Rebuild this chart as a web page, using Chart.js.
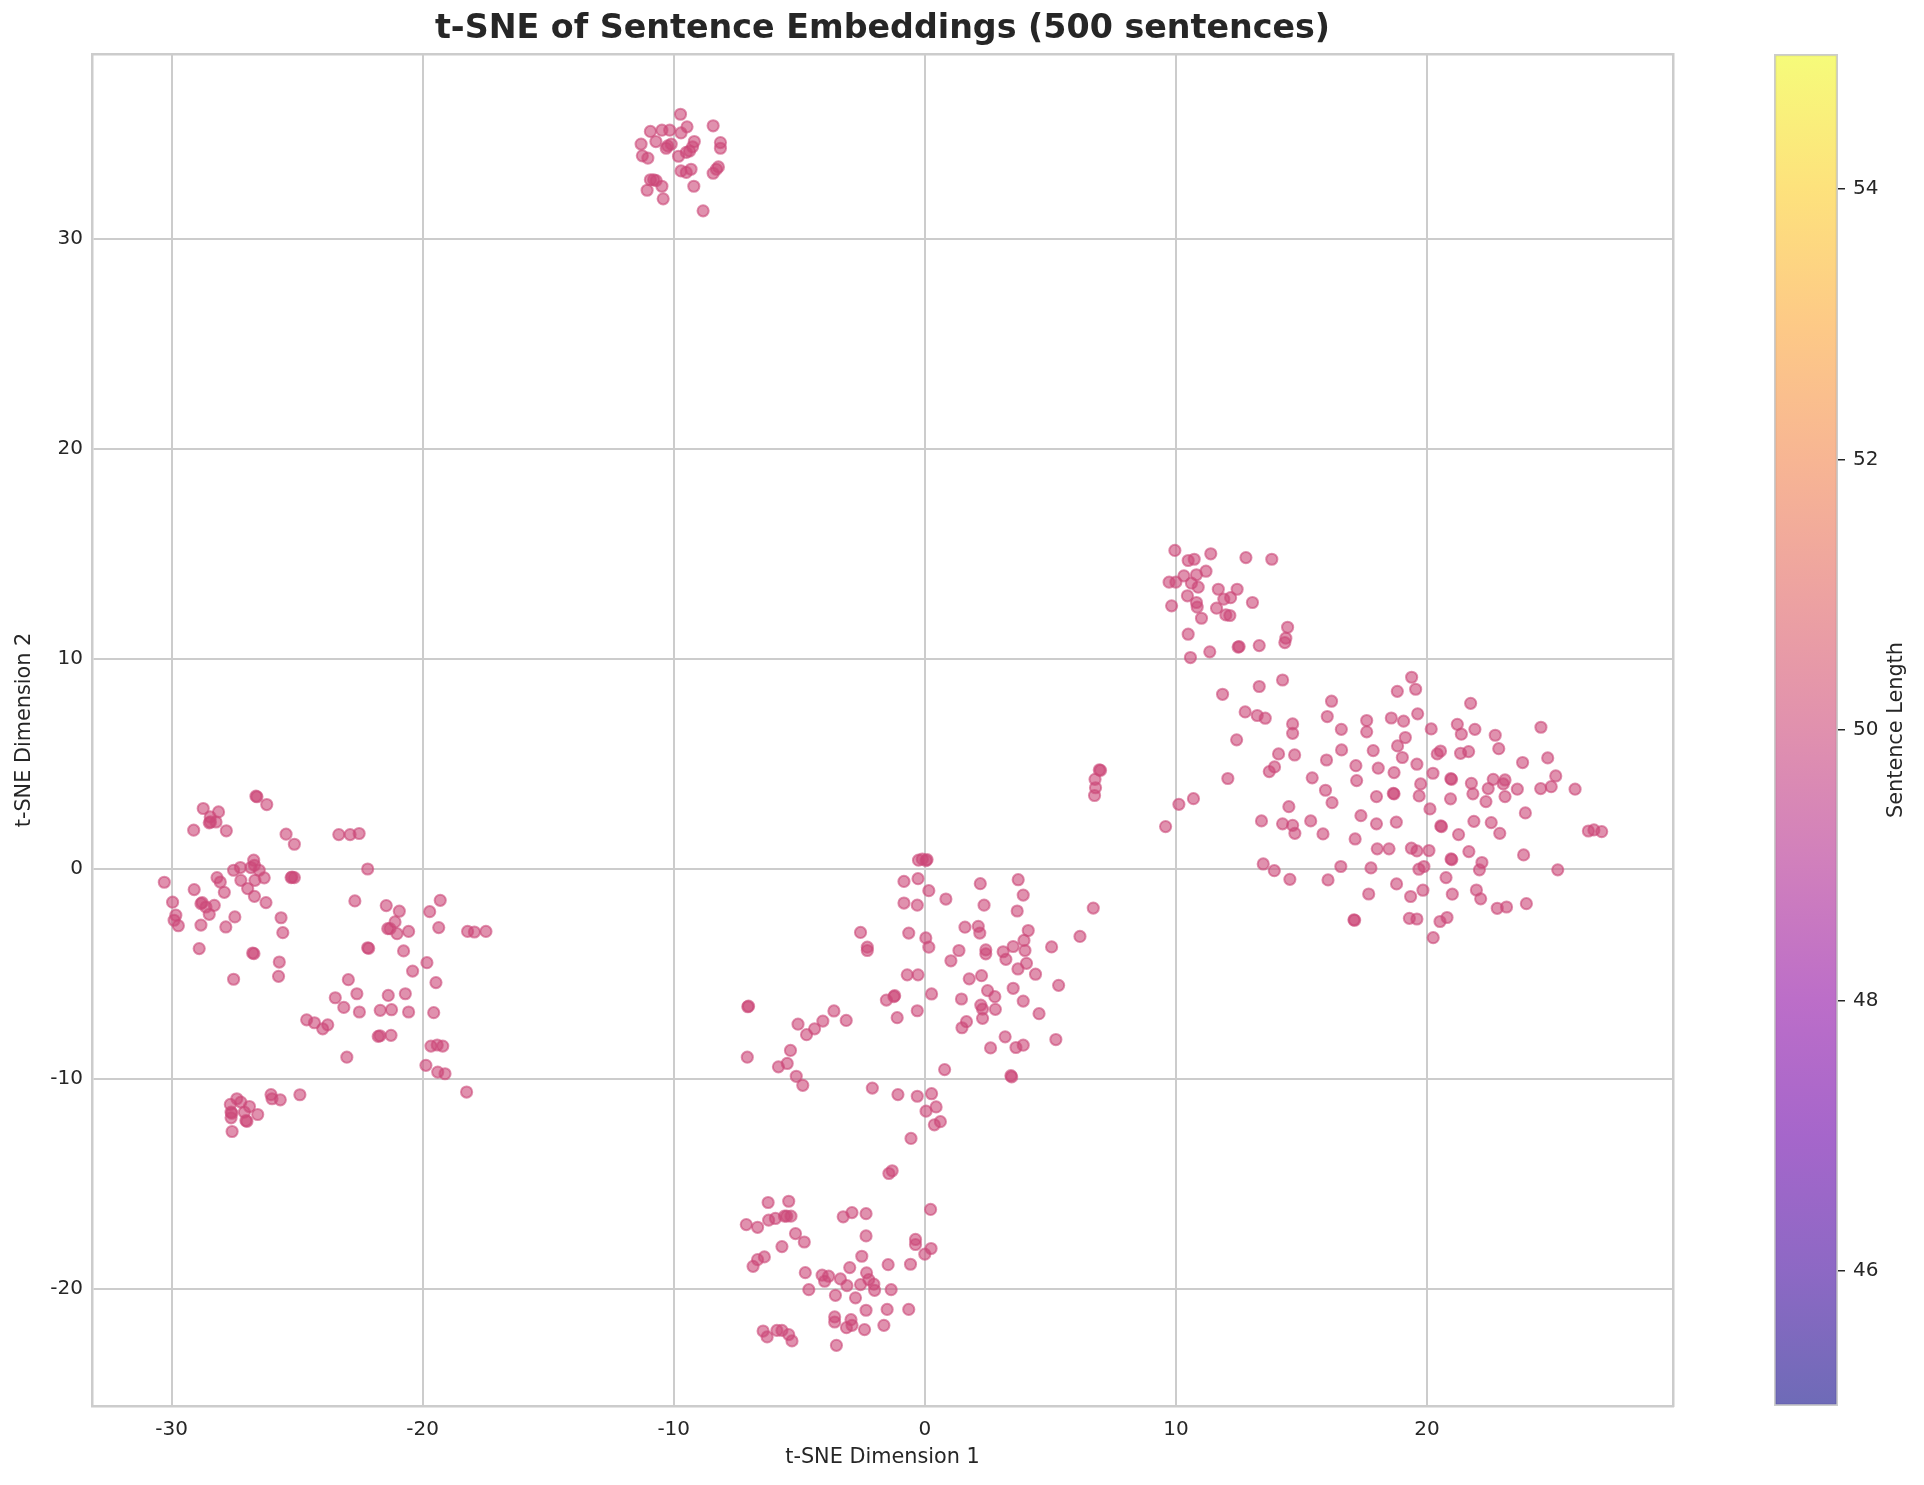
<!DOCTYPE html>
<html>
<head>
<meta charset="utf-8">
<title>t-SNE of Sentence Embeddings</title>
<script src="https://cdn.jsdelivr.net/npm/chart.js@4.4.0/dist/chart.umd.min.js"></script>
<style>
    html, body { margin: 0; padding: 0; background: #ffffff; }
    #wrap { position: relative; width: 1924px; height: 1485px; }
    #scatterChart { position: absolute; left: 0; top: 0; }
    #colorbarChart { position: absolute; left: 1764px; top: 0; }
</style>
</head>
<body>
<div id="wrap">
    <canvas id="scatterChart" width="1924" height="1485"></canvas>
    <canvas id="colorbarChart" width="160" height="1485"></canvas>
</div>
<script>
// t-SNE coordinates [dim1, dim2]
const topCluster = [
    [-9.73, 35.92], [-10.93, 35.10], [-10.47, 35.16], [-10.16, 35.16], [-9.71, 35.03], [-9.47, 35.32],
    [-8.43, 35.37], [-11.30, 34.50], [-10.71, 34.62], [-10.24, 34.41], [-10.10, 34.50], [-10.30, 34.30],
    [-9.18, 34.62], [-9.25, 34.37], [-9.37, 34.17], [-8.14, 34.57], [-8.14, 34.30], [-11.25, 33.94],
    [-11.03, 33.83], [-9.81, 33.92], [-9.50, 34.10], [-9.71, 33.22], [-9.50, 33.15], [-9.31, 33.30],
    [-8.22, 33.41], [-8.43, 33.11], [-8.30, 33.30], [-10.93, 32.80], [-10.80, 32.80], [-10.70, 32.76],
    [-11.06, 32.30], [-10.47, 32.49], [-10.42, 31.89], [-9.20, 32.49], [-8.83, 31.32]
];

const leftCluster = [
    [-26.64, 3.45], [-26.60, 3.42], [-26.21, 3.05], [-28.74, 2.86], [-28.13, 2.70], [-28.46, 2.46],
    [-28.50, 2.18], [-28.45, 2.22], [-28.23, 2.22], [-29.12, 1.83], [-27.82, 1.80], [-25.44, 1.64],
    [-25.11, 1.16], [-23.34, 1.62], [-22.89, 1.62], [-22.53, 1.67], [-26.73, 0.40], [-26.70, 0.16],
    [-27.53, -0.08], [-27.26, 0.05], [-26.84, 0.05], [-26.51, -0.08], [-28.19, -0.43], [-28.06, -0.64],
    [-27.24, -0.56], [-26.68, -0.56], [-26.31, -0.44], [-25.24, -0.43], [-25.20, -0.40], [-25.11, -0.43],
    [-30.29, -0.65], [-29.10, -1.00], [-27.90, -1.13], [-26.97, -0.95], [-26.70, -1.32], [-29.96, -1.60],
    [-28.83, -1.67], [-28.78, -1.62], [-28.63, -1.83], [-28.30, -1.75], [-28.50, -2.18], [-26.24, -1.62],
    [-29.83, -2.22], [-29.90, -2.46], [-29.73, -2.72], [-28.83, -2.69], [-27.84, -2.78], [-27.48, -2.30],
    [-25.64, -2.34], [-25.57, -3.05], [-28.90, -3.81], [-26.77, -4.02], [-26.72, -4.05], [-25.71, -4.45],
    [-25.74, -5.13], [-27.53, -5.27], [-22.96, -5.29], [-23.48, -6.15], [-23.14, -6.61], [-24.62, -7.20],
    [-24.31, -7.34], [-23.98, -7.63], [-23.78, -7.44], [-23.02, -8.98], [-24.89, -10.77], [-26.04, -10.76],
    [-26.00, -10.96], [-25.67, -11.01], [-27.40, -10.96], [-27.66, -11.23], [-27.24, -11.12], [-26.90, -11.33],
    [-27.63, -11.60], [-27.60, -11.65], [-27.63, -11.87], [-27.04, -12.00], [-27.00, -12.04], [-26.57, -11.71],
    [-27.59, -12.52], [-27.10, -11.60], [-22.19, -0.02], [-22.70, -1.54], [-21.45, -1.76], [-20.93, -2.03],
    [-21.10, -2.54], [-21.39, -2.86], [-21.30, -2.86], [-21.02, -3.10], [-20.56, -2.99], [-19.30, -1.51],
    [-19.72, -2.05], [-19.36, -2.81], [-18.21, -2.99], [-17.94, -3.02], [-17.48, -2.99], [-22.19, -3.77],
    [-22.15, -3.80], [-20.76, -3.92], [-19.83, -4.48], [-20.40, -4.88], [-19.47, -5.43], [-22.62, -5.96],
    [-21.37, -6.04], [-20.69, -5.96], [-22.52, -6.83], [-21.69, -6.75], [-21.24, -6.72], [-20.56, -6.83],
    [-19.56, -6.86], [-21.77, -7.99], [-21.70, -7.96], [-21.26, -7.94], [-19.67, -8.45], [-19.42, -8.40],
    [-19.20, -8.45], [-19.87, -9.37], [-19.40, -9.69], [-19.11, -9.77], [-18.25, -10.64]
];

const centerCluster = [
    [-0.25, 0.40], [-0.10, 0.45], [0.09, 0.43], [0.05, 0.38], [-0.83, -0.61], [-0.27, -0.48],
    [-0.83, -1.64], [-0.30, -1.74], [-2.56, -3.04], [-0.64, -3.07], [-2.29, -3.74], [-2.29, -3.90],
    [-0.70, -5.06], [-0.27, -5.06], [-1.53, -6.26], [-1.23, -6.10], [-1.20, -6.05], [-0.30, -6.77],
    [-1.10, -7.10], [-7.05, -6.58], [-7.02, -6.55], [-5.05, -7.41], [-3.62, -6.78], [-4.06, -7.26],
    [-4.39, -7.63], [-4.71, -7.91], [-3.13, -7.23], [-5.35, -8.66], [-5.48, -9.28], [-5.83, -9.44],
    [-7.07, -8.98], [-5.12, -9.89], [-4.86, -10.32], [-2.09, -10.45], [-1.07, -10.76], [-0.30, -10.84],
    [0.16, -1.05], [0.84, -1.45], [2.21, -0.72], [3.72, -0.53], [3.92, -1.26], [2.36, -1.74],
    [3.68, -2.02], [0.04, -3.30], [0.16, -3.74], [1.60, -2.79], [2.13, -2.75], [2.19, -3.07],
    [4.12, -2.95], [3.95, -3.42], [3.99, -3.90], [3.52, -3.71], [3.12, -3.96], [3.23, -4.32],
    [2.43, -3.87], [2.43, -4.06], [1.36, -3.90], [1.04, -4.39], [5.05, -3.73], [6.18, -3.23],
    [6.71, -1.88], [4.05, -4.51], [3.71, -4.78], [4.41, -5.03], [1.77, -5.25], [2.26, -5.10],
    [0.27, -5.97], [2.50, -5.81], [2.79, -6.10], [3.52, -5.70], [5.33, -5.56], [1.46, -6.21],
    [2.23, -6.50], [2.30, -6.69], [2.81, -6.70], [2.30, -7.13], [3.92, -6.31], [4.55, -6.91],
    [1.66, -7.29], [1.48, -7.58], [3.20, -8.01], [2.62, -8.54], [3.63, -8.52], [3.92, -8.41],
    [5.22, -8.14], [0.79, -9.57], [3.43, -9.86], [3.46, -9.92], [0.27, -10.72], [0.05, -11.55],
    [0.45, -11.35], [0.62, -12.05], [0.38, -12.20], [-0.55, -12.85], [6.95, 4.70], [7.00, 4.68],
    [6.78, 4.25], [6.80, 3.85], [6.76, 3.48]
];

const bottomCluster = [
    [-1.43, -14.52], [-1.30, -14.39], [0.23, -16.23], [-6.24, -15.90], [-5.42, -15.84], [-7.11, -16.95],
    [-6.66, -17.08], [-6.22, -16.74], [-5.95, -16.66], [-5.59, -16.55], [-5.50, -16.55], [-5.33, -16.55],
    [-5.15, -17.38], [-4.80, -17.78], [-5.69, -18.00], [-3.25, -16.58], [-2.90, -16.38], [-2.34, -16.43],
    [-2.34, -17.49], [-0.37, -17.66], [-0.37, -17.90], [0.25, -18.09], [0.00, -18.36], [-0.57, -18.84],
    [-1.46, -18.86], [-2.51, -18.46], [-2.99, -19.00], [-6.39, -18.49], [-6.66, -18.62], [-6.84, -18.94],
    [-4.76, -19.24], [-4.09, -19.36], [-3.83, -19.41], [-3.99, -19.65], [-3.36, -19.54], [-3.10, -19.86],
    [-2.32, -19.25], [-2.23, -19.57], [-2.03, -19.79], [-2.00, -20.08], [-2.56, -19.81], [-1.34, -20.05],
    [-4.62, -20.05], [-3.56, -20.32], [-2.76, -20.44], [-2.34, -21.03], [-1.50, -20.99], [-0.64, -20.99],
    [-3.59, -21.35], [-3.59, -21.59], [-2.94, -21.48], [-2.90, -21.75], [-3.12, -21.86], [-2.40, -21.95],
    [-1.63, -21.75], [-6.44, -22.02], [-6.28, -22.30], [-5.89, -21.99], [-5.69, -21.99], [-5.42, -22.19],
    [-5.29, -22.49], [-3.52, -22.70]
];

const upperRightCluster = [
    [9.96, 15.15], [10.49, 14.67], [10.73, 14.73], [11.39, 14.99], [12.79, 14.81], [13.82, 14.73],
    [9.73, 13.64], [10.00, 13.64], [10.32, 13.94], [10.82, 13.99], [11.20, 14.16], [10.62, 13.59],
    [10.89, 13.40], [10.46, 12.99], [9.83, 12.51], [10.82, 12.67], [10.85, 12.45], [11.02, 11.92],
    [11.69, 13.30], [12.44, 13.30], [11.91, 12.83], [12.18, 12.90], [11.62, 12.40], [11.99, 12.08],
    [12.15, 12.05], [13.05, 12.67], [10.49, 11.16], [11.35, 10.32], [12.52, 10.57], [12.48, 10.55],
    [13.32, 10.62], [14.45, 11.49], [14.38, 10.97], [14.34, 10.76], [10.58, 10.05]
];

const rightCluster = [
    [14.25, 8.98], [13.32, 8.67], [11.86, 8.30], [12.76, 7.46], [13.24, 7.29], [13.56, 7.16],
    [14.65, 6.89], [14.65, 6.44], [12.42, 6.13], [14.09, 5.46], [14.73, 5.41], [13.93, 4.84],
    [13.72, 4.62], [12.07, 4.29], [16.20, 7.97], [16.03, 7.24], [16.59, 6.63], [17.60, 7.05],
    [17.60, 6.51], [16.60, 5.65], [17.86, 5.62], [16.00, 5.17], [17.17, 4.90], [17.20, 4.19],
    [18.06, 4.78], [15.43, 4.32], [15.96, 3.73], [16.22, 3.14], [17.99, 3.43], [10.12, 3.06],
    [10.70, 3.33], [9.59, 2.00], [14.50, 2.95], [13.41, 2.27], [14.25, 2.13], [14.65, 2.06],
    [14.74, 1.68], [15.37, 2.27], [15.86, 1.65], [17.37, 2.52], [17.99, 2.13], [17.14, 1.41],
    [18.02, 0.94], [13.48, 0.22], [13.92, -0.10], [14.54, -0.51], [16.06, -0.54], [16.57, 0.10],
    [17.77, 0.03], [17.68, -1.21], [17.09, -2.44], [17.12, -2.46], [19.39, 9.11], [18.82, 8.44],
    [19.55, 8.54], [21.74, 7.87], [18.58, 7.17], [19.07, 7.02], [19.63, 7.37], [20.17, 6.65],
    [21.21, 6.87], [21.37, 6.40], [21.91, 6.63], [22.72, 6.35], [22.86, 5.71], [24.54, 6.73],
    [24.81, 5.27], [19.14, 6.24], [18.83, 5.84], [19.02, 5.29], [19.60, 4.97], [20.41, 5.46],
    [20.54, 5.60], [21.34, 5.49], [21.66, 5.57], [23.81, 5.05], [25.13, 4.41], [24.95, 3.90],
    [24.53, 3.81], [25.90, 3.78], [18.69, 4.57], [19.75, 4.03], [20.24, 4.54], [20.98, 4.25],
    [20.95, 4.28], [21.77, 4.06], [21.83, 3.56], [22.64, 4.25], [23.11, 4.22], [23.04, 4.03],
    [22.44, 3.81], [22.35, 3.19], [23.11, 3.43], [23.60, 3.78], [18.69, 3.56], [18.66, 3.58],
    [19.69, 3.46], [20.12, 2.84], [20.94, 3.32], [23.92, 2.65], [18.78, 2.21], [20.58, 2.00],
    [20.55, 2.03], [21.26, 1.62], [21.87, 2.25], [22.56, 2.19], [22.90, 1.68], [26.43, 1.79],
    [26.65, 1.84], [26.96, 1.76], [18.49, 0.94], [19.38, 0.97], [19.60, 0.84], [20.08, 0.86],
    [19.68, -0.03], [19.88, 0.10], [20.99, 0.43], [20.96, 0.46], [21.67, 0.81], [22.19, 0.29],
    [22.09, -0.06], [23.85, 0.65], [25.21, -0.06], [18.79, -0.73], [19.35, -1.33], [19.84, -1.03],
    [20.76, -0.43], [21.01, -1.22], [21.97, -1.02], [22.14, -1.44], [22.80, -1.89], [23.17, -1.83],
    [23.96, -1.67], [19.30, -2.37], [19.60, -2.40], [20.52, -2.52], [20.80, -2.33], [20.25, -3.29]
];

// every sentence has the same length, so all dots take the middle of the colour scale
const sentenceLength = 50;
const colorbarRange = [45, 55];
const colorbarTicks = [46, 48, 50, 52, 54];

const xRange = [-33.17, 29.80];
const yRange = [-25.59, 38.79];
const xTicks = [-30, -20, -10, 0, 10, 20];
const yTicks = [-20, -10, 0, 10, 20, 30];

// matplotlib plasma, 11 stops
const plasma = [
    [13, 8, 135], [65, 4, 157], [106, 0, 168], [143, 13, 164], [177, 42, 144], [204, 71, 120],
    [225, 100, 98], [242, 132, 75], [252, 166, 54], [252, 206, 37], [240, 249, 33]
];

const FONT = "'DejaVu Sans', sans-serif";
const TEXT = '#262626';
const GRID = '#cccccc';

function plasmaAt(t, alpha) {
    const pos = Math.min(Math.max(t, 0), 1) * (plasma.length - 1);
    const i = Math.min(Math.floor(pos), plasma.length - 2);
    const f = pos - i;
    const c = plasma[i].map((v, k) => Math.round(v + (plasma[i + 1][k] - v) * f));
    return `rgba(${c[0]}, ${c[1]}, ${c[2]}, ${alpha})`;
}

function fixedTicks(values) {
    return scale => { scale.ticks = values.map(v => ({ value: v })); };
}

function createScatter() {
    const points = [].concat(topCluster, leftCluster, centerCluster, bottomCluster, upperRightCluster, rightCluster)
        .map(([x, y]) => ({ x: x, y: y }));
    const t = (sentenceLength - colorbarRange[0]) / (colorbarRange[1] - colorbarRange[0]);
    const dotColor = plasmaAt(t, 0.6);

    const tickFont = { family: FONT, size: 20 };
    const labelFont = { family: FONT, size: 20.8 };

    // top and right spines
    const spine = (position, size) => ({
        position: position,
        display: true,
        min: 0, max: 1,
        grid: { display: false },
        ticks: { display: false },
        border: { display: true, color: GRID, width: 2.5 },
        afterFit: s => { if (size === 'h') s.height = 0; else s.width = 0; }
    });

    const ctx = document.getElementById('scatterChart').getContext('2d');
    new Chart(ctx, {
        type: 'scatter',
        data: {
            datasets: [{
                data: points,
                backgroundColor: dotColor,
                borderColor: dotColor,
                borderWidth: 2,
                pointRadius: 5.6
            }]
        },
        options: {
            responsive: false,
            animation: false,
            events: [],
            layout: { padding: { left: 0, right: 251, top: 0, bottom: 0 } },
            plugins: {
                legend: { display: false },
                tooltip: { enabled: false },
                title: {
                    display: true,
                    fullSize: false,
                    text: 't-SNE of Sentence Embeddings (500 sentences)',
                    color: TEXT,
                    font: { family: FONT, size: 33.3, weight: 'bold', lineHeight: 1.2 },
                    padding: { top: 9.5, bottom: 4.5 }
                }
            },
            scales: {
                x: {
                    type: 'linear',
                    min: xRange[0],
                    max: xRange[1],
                    afterBuildTicks: fixedTicks(xTicks),
                    afterFit: s => { s.height = 79; },
                    grid: { color: GRID, lineWidth: 2, drawTicks: false },
                    border: { color: GRID, width: 2.5 },
                    ticks: { color: TEXT, font: tickFont, padding: 12, maxRotation: 0 },
                    title: { display: true, text: 't-SNE Dimension 1', color: TEXT, font: labelFont, padding: { top: 0, bottom: 14.5 } }
                },
                y: {
                    type: 'linear',
                    min: yRange[0],
                    max: yRange[1],
                    afterBuildTicks: fixedTicks(yTicks),
                    afterFit: s => { s.width = 92; },
                    grid: { color: GRID, lineWidth: 2, drawTicks: false },
                    border: { color: GRID, width: 2.5 },
                    ticks: { color: TEXT, font: tickFont, padding: 9 },
                    title: { display: true, text: 't-SNE Dimension 2', color: TEXT, font: labelFont, padding: { top: 12.5, bottom: 0 } }
                },
                spineTop: spine('top', 'h'),
                spineRight: spine('right', 'w')
            }
        }
    });
}

function createColorbar() {
    const gradient = chart => {
        const area = chart.chartArea;
        if (!area) return plasmaAt(0.5, 0.6);
        const g = chart.ctx.createLinearGradient(0, area.bottom, 0, area.top);
        plasma.forEach((_, i) => g.addColorStop(i / (plasma.length - 1), plasmaAt(i / (plasma.length - 1), 0.6)));
        return g;
    };

    const barLabel = {
        id: 'barLabel',
        afterDraw(chart) {
            const { ctx, chartArea } = chart;
            ctx.save();
            ctx.translate(133, (chartArea.top + chartArea.bottom) / 2);
            ctx.rotate(-Math.PI / 2);
            ctx.font = `20.8px ${FONT}`;
            ctx.fillStyle = TEXT;
            ctx.textAlign = 'center';
            ctx.textBaseline = 'middle';
            ctx.fillText('Sentence Length', 0, 0);
            ctx.restore();
        }
    };

    const ctx = document.getElementById('colorbarChart').getContext('2d');
    new Chart(ctx, {
        type: 'bar',
        data: {
            labels: [''],
            datasets: [{
                data: [colorbarRange],
                backgroundColor: c => gradient(c.chart),
                borderColor: GRID,
                borderWidth: 2,
                borderSkipped: false,
                barPercentage: 1,
                categoryPercentage: 1
            }]
        },
        options: {
            responsive: false,
            animation: false,
            events: [],
            layout: { padding: { left: 10, right: 0, top: 54, bottom: 79 } },
            plugins: { legend: { display: false }, tooltip: { enabled: false } },
            scales: {
                x: { display: false },
                y: {
                    position: 'right',
                    min: colorbarRange[0],
                    max: colorbarRange[1],
                    afterBuildTicks: fixedTicks(colorbarTicks),
                    afterFit: s => { s.width = 86; },
                    grid: { drawOnChartArea: false, drawTicks: true, tickLength: 7, color: TEXT, lineWidth: 1.5 },
                    border: { display: false },
                    ticks: { color: TEXT, font: { family: FONT, size: 20 }, padding: 8 }
                }
            }
        },
        plugins: [barLabel]
    });
}

document.addEventListener('DOMContentLoaded', () => {
    createScatter();
    createColorbar();
});
</script>
</body>
</html>
